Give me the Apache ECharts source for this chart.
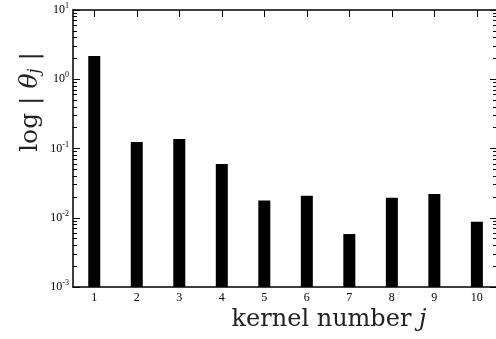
<!DOCTYPE html>
<html>
<head>
<meta charset="utf-8">
<script src="https://cdn.jsdelivr.net/npm/echarts@6/dist/echarts.min.js"></script>
<style>
  html, body { margin: 0; padding: 0; background: #fff; }
  #chart { width: 496px; height: 339px; }
</style>
</head>
<body>
<div id="chart"></div>
<script>
// kernel numbers and |theta_j| values
const kernels = [1, 2, 3, 4, 5, 6, 7, 8, 9, 10];
const thetaAbs = [2.17, 0.124, 0.137, 0.0596, 0.0178, 0.0208, 0.00582, 0.0194, 0.0220, 0.00875];
const decades = [0.001, 0.01, 0.1, 1, 10];

const FONT = '"Liberation Serif", "DejaVu Serif", serif';
const TITLE_FONT = '"DejaVu Serif", "Liberation Serif", serif';

// tick positions (log10 units) for the plain value axes that carry the minor ticks
const majorLog = decades.map(d => Math.log10(d));
const minorLog = [];
decades.slice(0, -1).forEach(d => {
    for (let k = 2; k <= 9; k++) minorLog.push(Math.log10(k * d));
});

const chart = echarts.init(document.getElementById('chart'));

const tickLine = { lineStyle: { color: '#000', width: 1 } };

chart.setOption({
    animation: false,
    backgroundColor: '#fff',
    grid: { left: 73, top: 10, right: 0, bottom: 52, outerBoundsMode: 'none' },
    xAxis: [
        {
            type: 'value', min: 0.5, max: 10.45,
            axisLine: { show: true, onZero: false, lineStyle: { color: '#000', width: 1.5 } },
            axisTick: { show: false },
            splitLine: { show: false },
            axisLabel: {
                customValues: kernels,
                color: '#000', fontFamily: FONT, fontSize: 12, margin: 5
            }
        },
        {
            type: 'value', position: 'top', min: 0.5, max: 10.45,
            axisLine: { show: true, onZero: false, lineStyle: { color: '#000', width: 1.5 } },
            axisTick: { show: true, inside: true, length: 7, customValues: kernels, ...tickLine },
            axisLabel: { show: false },
            splitLine: { show: false }
        }
    ],
    yAxis: [
        {
            type: 'log', min: 0.001, max: 10, logBase: 10, startValue: 0.001,
            axisLine: { show: true, onZero: false, lineStyle: { color: '#000', width: 1.5 } },
            axisTick: { show: true, inside: true, length: 7, ...tickLine },
            minorTick: { show: false },
            splitLine: { show: false },
            axisLabel: {
                margin: 4,
                formatter: v => '{b|10}{s|' + Math.round(Math.log10(v)) + '}',
                rich: {
                    b: { fontFamily: FONT, fontSize: 12, color: '#000' },
                    s: { fontFamily: FONT, fontSize: 8, color: '#000', padding: [0, 0, 8, 0] }
                }
            }
        },
        {
            // minor ticks on the left side
            type: 'value', min: -3, max: 1, position: 'left',
            axisLine: { show: false },
            axisTick: { show: true, inside: true, length: 4, customValues: minorLog, ...tickLine },
            axisLabel: { show: false },
            splitLine: { show: false }
        },
        {
            // major ticks on the right side
            type: 'value', min: -3, max: 1, position: 'right',
            axisLine: { show: false },
            axisTick: { show: true, inside: true, length: 6, customValues: majorLog, ...tickLine },
            axisLabel: { show: false },
            splitLine: { show: false }
        },
        {
            // minor ticks on the right side
            type: 'value', min: -3, max: 1, position: 'right',
            axisLine: { show: false },
            axisTick: { show: true, inside: true, length: 3, customValues: minorLog, ...tickLine },
            axisLabel: { show: false },
            splitLine: { show: false }
        }
    ],
    series: [{
        type: 'bar',
        xAxisIndex: 0,
        yAxisIndex: 0,
        barWidth: 12,
        itemStyle: { color: '#000' },
        data: kernels.map((k, i) => [k, thetaAbs[i]])
    }],
    graphic: [
        {
            type: 'text',
            x: 30, y: 102,
            rotation: Math.PI / 2,
            style: {
                text: '{n|log | }{t|θ}{j|j}{n| |}',
                align: 'center', verticalAlign: 'middle',
                rich: {
                    n: { fontFamily: TITLE_FONT, fontSize: 25, fill: '#222' },
                    t: { fontFamily: TITLE_FONT, fontSize: 25, fontStyle: 'italic', fill: '#222' },
                    j: { fontFamily: TITLE_FONT, fontSize: 16, fontStyle: 'italic', fill: '#222', padding: [10, 0, 0, 0] }
                }
            }
        },
        {
            type: 'text',
            x: 329, y: 320,
            style: {
                text: '{n|kernel number }{j|j}',
                align: 'center', verticalAlign: 'middle',
                rich: {
                    n: { fontFamily: TITLE_FONT, fontSize: 24, fill: '#222' },
                    j: { fontFamily: TITLE_FONT, fontSize: 24, fontStyle: 'italic', fill: '#222' }
                }
            }
        }
    ]
});
</script>
</body>
</html>
